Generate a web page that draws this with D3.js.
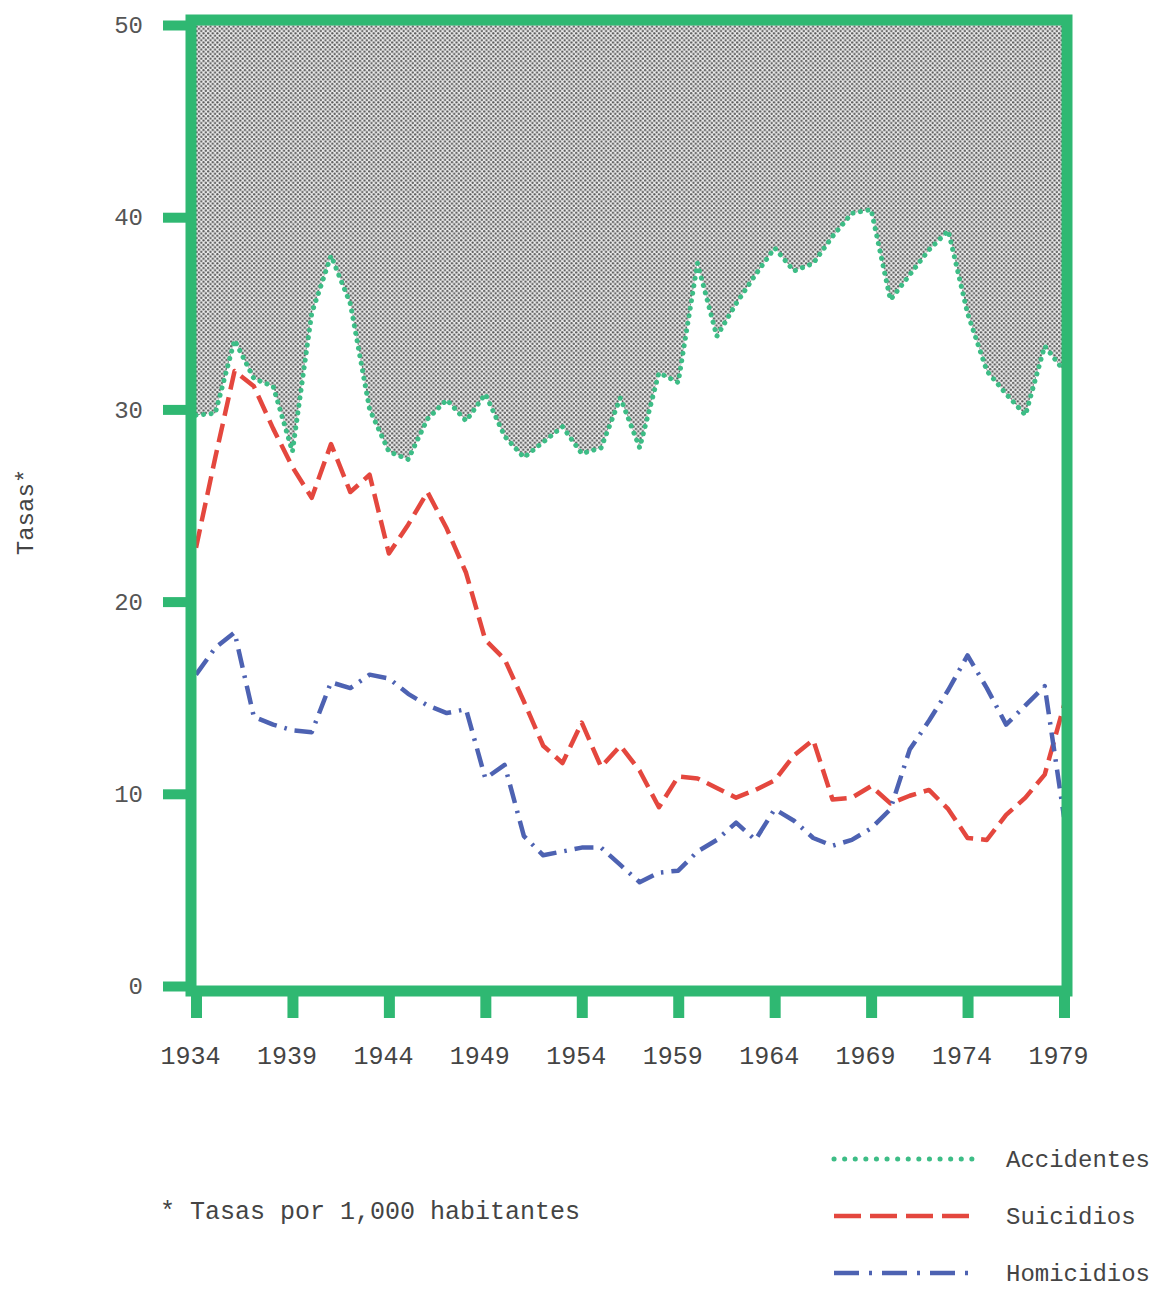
<!DOCTYPE html>
<html><head><meta charset="utf-8">
<script src="https://cdn.jsdelivr.net/npm/d3@7"></script>
<style>body{margin:0;background:#fff}</style>
</head><body><svg id="c" width="1170" height="1290"></svg>
<script>
const years = [1934,1935,1936,1937,1938,1939,1940,1941,1942,1943,1944,1945,1946,1947,1948,1949,1950,1951,1952,1953,1954,1955,1956,1957,1958,1959,1960,1961,1962,1963,1964,1965,1966,1967,1968,1969,1970,1971,1972,1973,1974,1975,1976,1977,1978,1979];
const accidentes = [29.7,29.8,33.6,31.6,31.2,27.8,35.0,38.0,35.5,30.0,27.8,27.4,29.5,30.5,29.4,30.8,28.6,27.5,28.3,29.1,27.7,28.0,30.6,28.0,31.9,31.4,37.6,33.8,35.5,37.0,38.4,37.2,37.6,39.0,40.2,40.4,35.7,37.0,38.3,39.3,35.0,32.0,30.8,29.7,33.3,32.0];
const suicidios = [22.8,27.5,32.0,31.2,29.0,27.0,25.4,28.2,25.7,26.6,22.5,24.0,25.7,23.8,21.5,18.0,17.0,14.8,12.5,11.6,13.7,11.4,12.5,11.2,9.3,10.9,10.8,10.3,9.8,10.2,10.7,12.0,12.8,9.7,9.8,10.4,9.5,9.9,10.2,9.2,7.7,7.6,8.9,9.8,11.0,14.6];
const homicidios = [16.2,17.6,18.4,14.0,13.6,13.3,13.2,15.8,15.5,16.2,16.0,15.2,14.6,14.2,14.4,10.8,11.5,7.8,6.8,7.0,7.2,7.2,6.3,5.4,5.9,6.0,7.0,7.6,8.5,7.6,9.2,8.6,7.7,7.3,7.6,8.2,9.2,12.3,13.8,15.4,17.2,15.5,13.6,14.6,15.6,8.8];
const xTicks = [1934,1939,1944,1949,1954,1959,1964,1969,1974,1979];
const yTicks = [0,10,20,30,40,50];
const seriesNames = ["Accidentes","Suicidios","Homicidios"];
const footnote = "* Tasas por 1,000 habitantes";
const yTitle = "Tasas*";

const GREEN = "#2fb872", DOTGREEN = "#3dbd86", RED = "#e4473e", BLUE = "#4d62b2";
const FONT = "'Liberation Mono', 'DejaVu Sans Mono', monospace";
const styles = [
  {color: DOTGREEN, dash: "0.1 7.5", legDash: "0.1 10.5", cap: "round", w: 5},
  {color: RED, dash: "19 8", legDash: "27 9", cap: "butt", w: 4.5},
  {color: BLUE, dash: "19 8 2.5 8", legDash: "25 10 3 10", cap: "butt", w: 4.5}
];

const svg = d3.select("#c");
const x = d3.scaleLinear().domain([1934,1979]).range([196,1064]);
const y = d3.scaleLinear().domain([0,50]).range([986,25]);

// halftone pattern
const defs = svg.append("defs");
const P = 4.6;
const pat = defs.append("pattern").attr("id","dots").attr("patternUnits","userSpaceOnUse")
  .attr("width",P).attr("height",P);
pat.append("rect").attr("width",P).attr("height",P).attr("fill","#ececec");
pat.append("circle").attr("cx",P/4).attr("cy",P/4).attr("r",1.15).attr("fill","#585858");
pat.append("circle").attr("cx",3*P/4).attr("cy",3*P/4).attr("r",1.15).attr("fill","#585858");

// shaded area above accidents
const area = d3.area().x((d,i)=>x(years[i])).y0(y(50)).y1(d=>y(d));
svg.append("path").datum(accidentes).attr("d",area).attr("fill","url(#dots)");

// lines
const line = d3.line().x((d,i)=>x(years[i])).y(d=>y(d));
[accidentes, suicidios, homicidios].forEach((s,k)=>{
  svg.append("path").datum(s).attr("d",line).attr("fill","none")
    .attr("stroke",styles[k].color).attr("stroke-width",styles[k].w)
    .attr("stroke-dasharray",styles[k].dash).attr("stroke-linecap",styles[k].cap)
    .attr("stroke-linejoin","round");
});

// frame
svg.append("rect").attr("x",191).attr("y",20).attr("width",876).attr("height",971)
  .attr("fill","none").attr("stroke",GREEN).attr("stroke-width",11);

// y axis
const ya = svg.append("g").attr("transform","translate(186,0)")
  .call(d3.axisLeft(y).tickValues(yTicks).tickSize(23).tickPadding(20).tickFormat(d3.format("d")));
ya.select(".domain").remove();
ya.selectAll(".tick line").attr("stroke",GREEN).attr("stroke-width",10);
ya.selectAll(".tick text").attr("fill","#555").style("font-family",FONT).style("font-size","24px");

// x axis
const xa = svg.append("g").attr("transform","translate(0,996)")
  .call(d3.axisBottom(x).tickValues(xTicks).tickSize(22).tickPadding(28).tickFormat(d3.format("d")));
xa.select(".domain").remove();
xa.selectAll(".tick line").attr("stroke",GREEN).attr("stroke-width",11);
xa.selectAll(".tick text").attr("fill","#444").attr("dx",-6).style("font-family",FONT).style("font-size","25px");

// y title
svg.append("text").attr("transform","translate(33,512) rotate(-90)").attr("text-anchor","middle")
  .attr("fill","#444").style("font-family",FONT).style("font-size","24px").text(yTitle);

// footnote
svg.append("text").attr("x",160).attr("y",1219).attr("fill","#444")
  .style("font-family",FONT).style("font-size","25px").text(footnote);

// legend
const legY = [1159,1216,1273];
seriesNames.forEach((n,k)=>{
  svg.append("line").attr("x1",834).attr("x2",972).attr("y1",legY[k]).attr("y2",legY[k])
    .attr("stroke",styles[k].color).attr("stroke-width",styles[k].w)
    .attr("stroke-dasharray",styles[k].legDash).attr("stroke-linecap",styles[k].cap);
  svg.append("text").attr("x",1006).attr("y",legY[k]+8).attr("fill","#444")
    .style("font-family",FONT).style("font-size","24px").text(n);
});
</script>
</body></html>
